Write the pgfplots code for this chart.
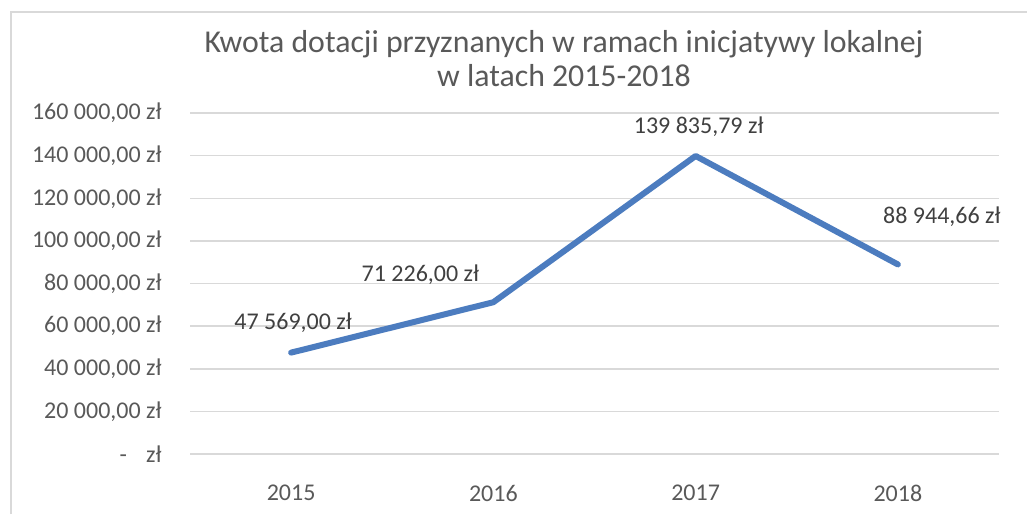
\documentclass[border=0pt]{standalone}
\usepackage{pgfplots}
\pgfplotsset{compat=1.18}
\usepackage{fontspec}
\setmainfont{Carlito}

\definecolor{linecol}{RGB}{76,124,191}
\definecolor{gridcol}{RGB}{217,217,217}
\definecolor{txtcol}{RGB}{89,89,89}
\definecolor{lblcol}{RGB}{64,64,64}

\begin{document}
\begin{tikzpicture}
% canvas: 1px = 0.5pt
\useasboundingbox (0,0) rectangle (513.5pt,257pt);
\draw[gridcol, line width=1pt] (5.5pt,0) -- (5.5pt,251pt) -- (513.5pt,251pt);

\node[txtcol, font=\fontsize{15.9}{17}\selectfont, align=center]
  at (282pt,227.5pt) {Kwota dotacji przyznanych w ramach inicjatywy lokalnej\\w latach 2015-2018};

\begin{axis}[
  at={(95pt,30pt)}, anchor=south west,
  scale only axis,
  width=404.5pt, height=170.5pt,
  xmin=-0.5, xmax=3.5,
  ymin=0, ymax=160000,
  scaled y ticks=false,
  axis line style={draw=none},
  major tick length=0pt,
  xtick={0,1,2,3},
  xticklabels={2015,2016,2017,2018},
  ytick={0,20000,40000,60000,80000,100000,120000,140000,160000},
  yticklabels={{-\hspace{0.8em}zł},{20 000,00 zł},{40 000,00 zł},{60 000,00 zł},{80 000,00 zł},{100 000,00 zł},{120 000,00 zł},{140 000,00 zł},{160 000,00 zł}},
  ymajorgrids,
  grid style={gridcol, line width=0.75pt},
  tick label style={txtcol, font=\fontsize{12}{14}\selectfont},
  xticklabel style={anchor=center, yshift=-19.5pt},
  yticklabel style={anchor=east, inner sep=0pt, xshift=-14pt},
  clip=false,
]
\addplot[linecol, line width=3pt, line join=round, line cap=round] coordinates {
  (0,47569.00) (1,71226.00) (2,139835.79) (3,88944.66)
};
\begin{scope}[every node/.style={lblcol, font=\fontsize{12}{14}\selectfont}]
\node[xshift=1pt, yshift=15pt] at (axis cs:0,47569.00) {47 569,00 zł};
\node[xshift=-36.5pt, yshift=13.5pt] at (axis cs:1,71226.00) {71 226,00 zł};
\node[xshift=1.5pt, yshift=14.5pt] at (axis cs:2,139835.79) {139 835,79 zł};
\node[xshift=22pt, yshift=24pt] at (axis cs:3,88944.66) {88 944,66 zł};
\end{scope}
\end{axis}
\end{tikzpicture}
\end{document}
